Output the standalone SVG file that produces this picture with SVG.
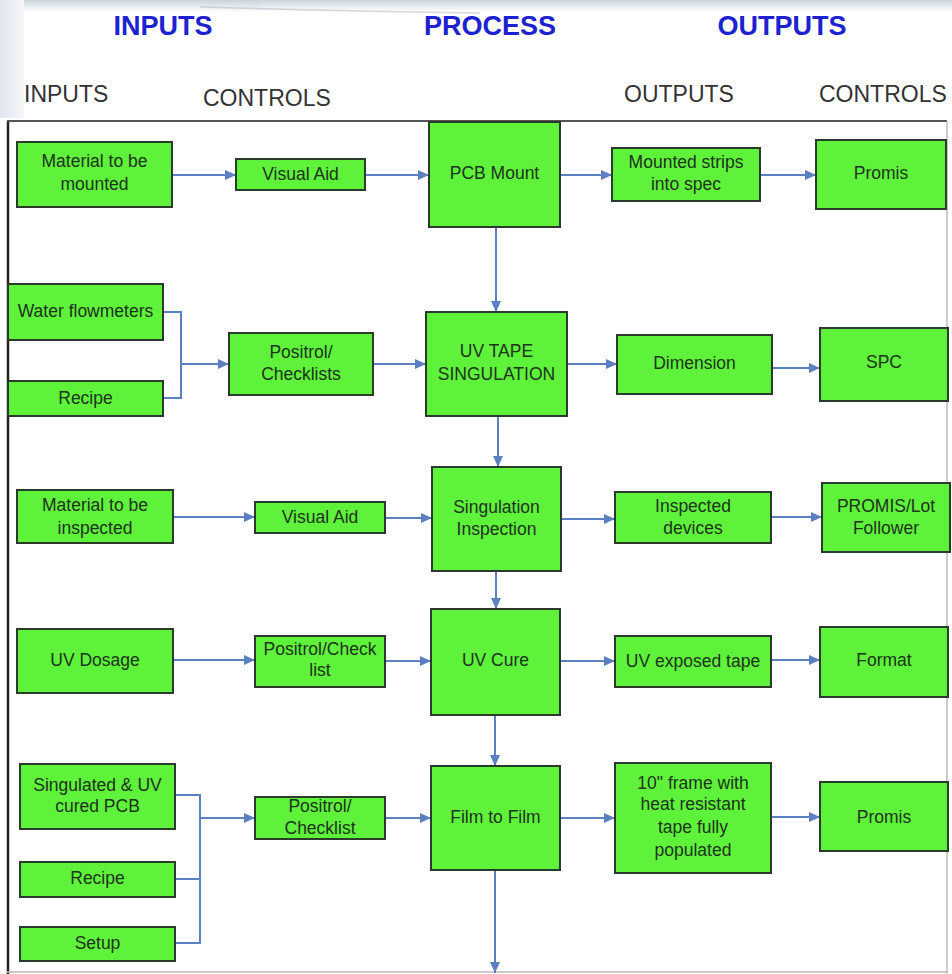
<svg xmlns="http://www.w3.org/2000/svg" width="952" height="974" viewBox="0 0 952 974">
<defs>
<linearGradient id="topband" x1="0" y1="0" x2="0" y2="1">
<stop offset="0" stop-color="#c9d2dc"/>
<stop offset="1" stop-color="#ffffff"/>
</linearGradient>
<linearGradient id="leftband" x1="0" y1="0" x2="1" y2="0">
<stop offset="0" stop-color="#dfe6ee"/>
<stop offset="1" stop-color="#f4f6f9"/>
</linearGradient>
<marker id="ah" markerUnits="userSpaceOnUse" markerWidth="12" markerHeight="10" refX="11" refY="5" orient="auto">
<path d="M0,0 L11,5 L0,10 Z" fill="#5b7fc0"/>
</marker>
<style>
.nd rect{fill:#5ef23a;stroke:#2b3b2b;stroke-width:2}
.nd text{font-family:"Liberation Sans",Arial,sans-serif;font-size:17.5px;fill:#1f331f;text-anchor:middle;dominant-baseline:central}
.cn path{fill:none;stroke:#5b7fc0;stroke-width:2}
.hd{font-family:"Liberation Sans",Arial,sans-serif;font-size:27px;font-weight:bold;fill:#1c22d0;text-anchor:middle}
.sh{font-family:"Liberation Sans",Arial,sans-serif;font-size:23px;fill:#333333}
</style>
</defs>
<rect x="0" y="0" width="952" height="974" fill="#ffffff"/>
<rect x="0" y="0" width="952" height="12" fill="url(#topband)"/>
<rect x="0" y="0" width="24" height="118" fill="url(#leftband)"/>
<path d="M200,7 Q350,11 480,13" fill="none" stroke="#aab3bc" stroke-width="1.5" opacity="0.5"/>

<g id="headers">
<text class="hd" x="163" y="35">INPUTS</text>
<text class="hd" x="490" y="35">PROCESS</text>
<text class="hd" x="782" y="35">OUTPUTS</text>
<text class="sh" x="24" y="102">INPUTS</text>
<text class="sh" x="203" y="106">CONTROLS</text>
<text class="sh" x="624" y="102">OUTPUTS</text>
<text class="sh" x="819" y="102">CONTROLS</text>
</g>

<g id="frame">
<line x1="8" y1="121" x2="8" y2="974" stroke="#222" stroke-width="2.5"/>
<line x1="7" y1="121" x2="947" y2="121" stroke="#555" stroke-width="2"/>
<line x1="947" y1="121" x2="947" y2="974" stroke="#bbb" stroke-width="1.5"/>
<line x1="7" y1="972" x2="947" y2="972" stroke="#bbb" stroke-width="1.5"/>
</g>

<g id="connectors" class="cn">
<path d="M172,175 H236" marker-end="url(#ah)"/>
<path d="M365,175 H429" marker-end="url(#ah)"/>
<path d="M560,175 H612" marker-end="url(#ah)"/>
<path d="M760,175 H816" marker-end="url(#ah)"/>
<path d="M496,227 V312" marker-end="url(#ah)"/>
<path d="M163,312 H181 V398 H163"/>
<path d="M181,364 H229" marker-end="url(#ah)"/>
<path d="M373,364 H426" marker-end="url(#ah)"/>
<path d="M567,364 H617" marker-end="url(#ah)"/>
<path d="M772,368 H820" marker-end="url(#ah)"/>
<path d="M498,416 V467" marker-end="url(#ah)"/>
<path d="M173,517 H255" marker-end="url(#ah)"/>
<path d="M385,518 H432" marker-end="url(#ah)"/>
<path d="M561,519 H615" marker-end="url(#ah)"/>
<path d="M771,517 H822" marker-end="url(#ah)"/>
<path d="M496,571 V609" marker-end="url(#ah)"/>
<path d="M173,660 H255" marker-end="url(#ah)"/>
<path d="M385,661 H431" marker-end="url(#ah)"/>
<path d="M560,661 H615" marker-end="url(#ah)"/>
<path d="M771,660 H820" marker-end="url(#ah)"/>
<path d="M495,715 V766" marker-end="url(#ah)"/>
<path d="M175,795 H200 V943 H175"/>
<path d="M175,879 H200"/>
<path d="M200,818 H255" marker-end="url(#ah)"/>
<path d="M385,818 H431" marker-end="url(#ah)"/>
<path d="M560,818 H615" marker-end="url(#ah)"/>
<path d="M771,817 H820" marker-end="url(#ah)"/>
<path d="M495,870 V973" marker-end="url(#ah)"/>
</g>

<g id="n1" class="nd"><rect x="17" y="142" width="155" height="65"/><text x="94.5" y="161">Material to be</text><text x="94.5" y="184">mounted</text></g>
<g id="n2" class="nd"><rect x="236" y="159" width="129" height="31"/><text x="300.5" y="174">Visual Aid</text></g>
<g id="n3" class="nd"><rect x="429" y="122" width="131" height="105"/><text x="494.5" y="173">PCB Mount</text></g>
<g id="n4" class="nd"><rect x="612" y="148" width="148" height="53"/><text x="686" y="162">Mounted strips</text><text x="686" y="184">into spec</text></g>
<g id="n5" class="nd"><rect x="816" y="140" width="130" height="69"/><text x="881" y="173">Promis</text></g>

<g id="n6" class="nd"><rect x="8" y="284" width="155" height="56"/><text x="85.5" y="311">Water flowmeters</text></g>
<g id="n7" class="nd"><rect x="8" y="381" width="155" height="35"/><text x="85.5" y="398">Recipe</text></g>
<g id="n8" class="nd"><rect x="229" y="333" width="144" height="62"/><text x="301" y="352">Positrol/</text><text x="301" y="374">Checklists</text></g>
<g id="n9" class="nd"><rect x="426" y="312" width="141" height="104"/><text x="496.5" y="351">UV TAPE</text><text x="496.5" y="374">SINGULATION</text></g>
<g id="n10" class="nd"><rect x="617" y="335" width="155" height="59"/><text x="694.5" y="363">Dimension</text></g>
<g id="n11" class="nd"><rect x="820" y="328" width="128" height="73"/><text x="884" y="362">SPC</text></g>

<g id="n12" class="nd"><rect x="17" y="490" width="156" height="53"/><text x="95" y="505">Material to be</text><text x="95" y="528">inspected</text></g>
<g id="n13" class="nd"><rect x="255" y="502" width="130" height="31"/><text x="320" y="517">Visual Aid</text></g>
<g id="n14" class="nd"><rect x="432" y="467" width="129" height="104"/><text x="496.5" y="507">Singulation</text><text x="496.5" y="529">Inspection</text></g>
<g id="n15" class="nd"><rect x="615" y="492" width="156" height="51"/><text x="693" y="506">Inspected</text><text x="693" y="528">devices</text></g>
<g id="n16" class="nd"><rect x="822" y="483" width="128" height="69"/><text x="886" y="506">PROMIS/Lot</text><text x="886" y="528">Follower</text></g>

<g id="n17" class="nd"><rect x="17" y="629" width="156" height="64"/><text x="95" y="660">UV Dosage</text></g>
<g id="n18" class="nd"><rect x="255" y="636" width="130" height="51"/><text x="320" y="649">Positrol/Check</text><text x="320" y="670">list</text></g>
<g id="n19" class="nd"><rect x="431" y="609" width="129" height="106"/><text x="495.5" y="660">UV Cure</text></g>
<g id="n20" class="nd"><rect x="615" y="636" width="156" height="51"/><text x="693" y="661">UV exposed tape</text></g>
<g id="n21" class="nd"><rect x="820" y="627" width="128" height="70"/><text x="884" y="660">Format</text></g>

<g id="n22" class="nd"><rect x="20" y="764" width="155" height="65"/><text x="97.5" y="785">Singulated &amp; UV</text><text x="97.5" y="806">cured PCB</text></g>
<g id="n23" class="nd"><rect x="20" y="862" width="155" height="35"/><text x="97.5" y="878">Recipe</text></g>
<g id="n24" class="nd"><rect x="20" y="927" width="155" height="34"/><text x="97.5" y="943">Setup</text></g>
<g id="n25" class="nd"><rect x="255" y="797" width="130" height="42"/><text x="320" y="806">Positrol/</text><text x="320" y="828">Checklist</text></g>
<g id="n26" class="nd"><rect x="431" y="766" width="129" height="104"/><text x="495.5" y="817">Film to Film</text></g>
<g id="n27" class="nd"><rect x="615" y="763" width="156" height="110"/><text x="693" y="783">10" frame with</text><text x="693" y="804">heat resistant</text><text x="693" y="827">tape fully</text><text x="693" y="850">populated</text></g>
<g id="n28" class="nd"><rect x="820" y="782" width="128" height="69"/><text x="884" y="817">Promis</text></g>
</svg>
